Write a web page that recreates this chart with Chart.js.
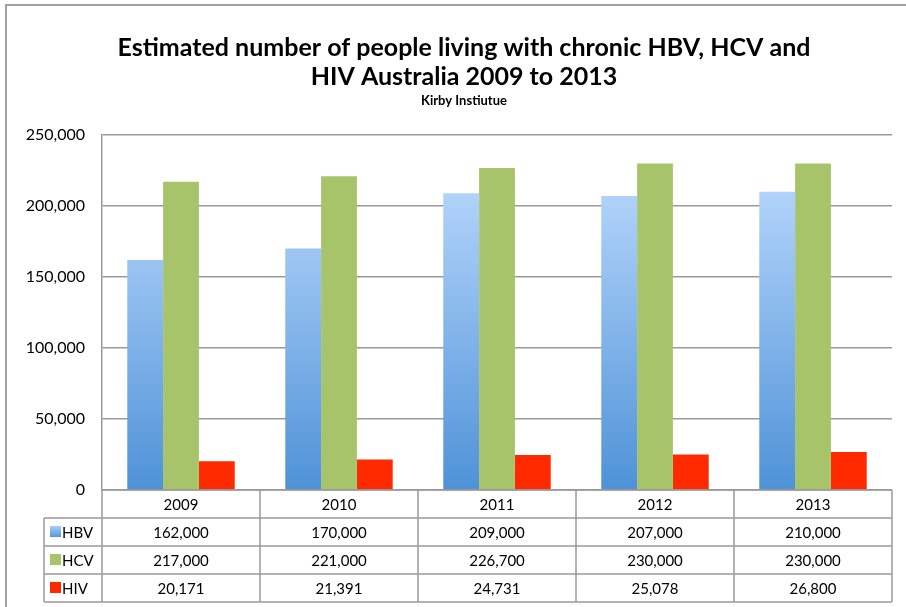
<!DOCTYPE html>
<html>
<head>
<meta charset="utf-8">
<script src="https://cdn.jsdelivr.net/npm/chart.js@4"></script>
<style>
  body { margin: 0; background: #fff; }
  #wrap { width: 906px; height: 607px; }
</style>
</head>
<body>
<div id="wrap"><canvas id="chart"></canvas></div>
<script>
// Chart data
const years = ['2009', '2010', '2011', '2012', '2013'];
const hbv = [162000, 170000, 209000, 207000, 210000];
const hcv = [217000, 221000, 226700, 230000, 230000];
const hiv = [20171, 21391, 24731, 25078, 26800];
const yTicks = [0, 50000, 100000, 150000, 200000, 250000];
const titleLines = ['Estimated number of people living with chronic HBV, HCV and', 'HIV Australia 2009 to 2013'];
const subTitle = 'Kirby Instiutue';

const FONT = 'Lato, "Open Sans", sans-serif';
const GRID = '#9a9a9a';
const ROW_H = 28;

// vertical gradient for the HBV bars
function hbvFill(ctx) {
  const chart = ctx.chart;
  const area = chart.chartArea;
  if (!area) return '#6aa6e6';
  const y = chart.scales.y;
  const g = chart.ctx.createLinearGradient(0, y.getPixelForValue(210000), 0, area.bottom);
  g.addColorStop(0, '#b1d3fa');
  g.addColorStop(1, '#4f92d8');
  return g;
}

const fmt = v => v.toLocaleString('en-US');

// draws the titles, the data table under the plot and the outer frame
const tablePlugin = {
  id: 'dataTable',
  afterDraw(chart) {
    const c = chart.ctx;
    const a = chart.chartArea;
    const colW = (a.right - a.left) / years.length;
    const top = a.bottom;
    const legLeft = 44;
    const rows = [
      { name: 'HBV', data: hbv, color: '#6ea9e8' },
      { name: 'HCV', data: hcv, color: '#a8c46a' },
      { name: 'HIV', data: hiv, color: '#ff2a00' }
    ];

    c.save();
    // outer frame
    c.strokeStyle = '#a0a0a0';
    c.lineWidth = 2;
    c.beginPath();
    c.moveTo(6, 620);
    c.lineTo(6, 5);
    c.lineTo(920, 5);
    c.stroke();

    // titles
    c.fillStyle = '#000';
    c.textAlign = 'center';
    c.textBaseline = 'middle';
    c.font = 'bold 25px ' + FONT;
    c.fillText(titleLines[0], 464, 48);
    c.fillText(titleLines[1], 464, 77);
    c.font = 'bold 13px ' + FONT;
    c.fillText(subTitle, 464, 101);

    c.strokeStyle = GRID;
    c.lineWidth = 1.5;
    c.beginPath();
    // horizontal lines
    c.moveTo(a.left, top); c.lineTo(a.right, top);
    for (let r = 1; r <= 4; r++) {
      c.moveTo(legLeft, top + r * ROW_H);
      c.lineTo(a.right, top + r * ROW_H);
    }
    // vertical lines
    for (let i = 0; i <= years.length; i++) {
      const x = a.left + i * colW;
      c.moveTo(x, top);
      c.lineTo(x, top + 4 * ROW_H);
    }
    c.moveTo(legLeft, top + ROW_H);
    c.lineTo(legLeft, top + 4 * ROW_H);
    c.stroke();

    c.font = '15px ' + FONT;
    years.forEach((yr, i) => {
      c.fillText(yr, a.left + (i + 0.5) * colW, top + ROW_H / 2 + 1);
    });
    rows.forEach((row, r) => {
      const cy = top + (r + 1.5) * ROW_H + 1;
      row.data.forEach((v, i) => {
        c.fillText(fmt(v), a.left + (i + 0.5) * colW, cy);
      });
      c.fillStyle = row.color;
      if (r === 0) {
        const g = c.createLinearGradient(0, cy - 7, 0, cy + 5);
        g.addColorStop(0, '#a9cdf7');
        g.addColorStop(1, '#4f92d8');
        c.fillStyle = g;
      }
      c.fillRect(50, cy - 7, 11, 11);
      c.fillStyle = '#000';
      c.textAlign = 'left';
      c.fillText(row.name, 62, cy);
      c.textAlign = 'center';
    });
    c.restore();
  }
};

const ctx = document.getElementById('chart').getContext('2d');
new Chart(ctx, {
  type: 'bar',
  data: {
    labels: years,
    datasets: [
      { label: 'HBV', data: hbv, backgroundColor: hbvFill },
      { label: 'HCV', data: hcv, backgroundColor: '#a8c46a' },
      { label: 'HIV', data: hiv, backgroundColor: '#ff2a00' }
    ]
  },
  options: {
    responsive: true,
    maintainAspectRatio: false,
    animation: false,
    layout: { padding: { left: 0, right: 14, top: 135, bottom: 117 } },
    datasets: { bar: { categoryPercentage: 0.68, barPercentage: 1.0 } },
    plugins: {
      legend: { display: false },
      tooltip: { enabled: false },
      title: { display: false }
    },
    scales: {
      x: { display: false },
      y: {
        min: 0,
        max: 250000,
        afterBuildTicks: s => { s.ticks = yTicks.map(v => ({ value: v })); },
        afterFit: s => { s.width = 102; },
        grid: { color: GRID, lineWidth: 1.5, drawTicks: false },
        border: { color: GRID, width: 1.5 },
        ticks: {
          color: '#000',
          padding: 17,
          font: { family: FONT, size: 16 },
          callback: v => fmt(v)
        }
      }
    }
  },
  plugins: [tablePlugin]
});
</script>
</body>
</html>
